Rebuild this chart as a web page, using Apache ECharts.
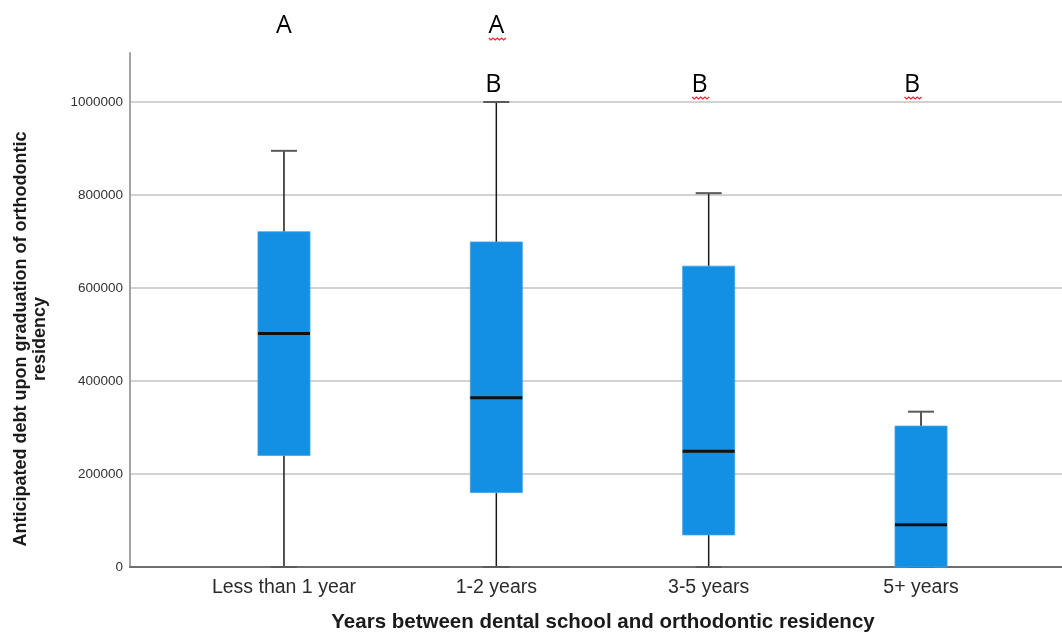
<!DOCTYPE html>
<html>
<head>
<meta charset="utf-8">
<script src="https://cdn.jsdelivr.net/npm/echarts@6/dist/echarts.min.js"></script>
<style>
html,body{margin:0;padding:0;background:#fff;}
#chart{width:1062px;height:641px;}
</style>
</head>
<body>
<div id="chart"></div>
<script>
// ---- data ----
var categories = ['Less than 1 year', '1-2 years', '3-5 years', '5+ years'];
var whiskerMin = [0, 0, 0, 0];
var quartile1  = [240000, 160000, 69000, 0];
var medians    = [502000, 364000, 249000, 91000];
var quartile3  = [721000, 699000, 647000, 303000];
var whiskerMax = [895000, 1000000, 804000, 334000];
var yTicks = [0, 200000, 400000, 600000, 800000, 1000000];
var topLetters   = ['A', 'A', '', ''];
var lowerLetters = ['', 'B', 'B', 'B'];
var squiggleTop   = [false, true, false, false];
var squiggleLower = [false, false, true, true];
var xTitle = 'Years between dental school and orthodontic residency';
var yTitle = 'Anticipated debt upon graduation of orthodontic\nresidency';

var boxData = categories.map(function (c, i) {
  return [i, whiskerMin[i], quartile1[i], medians[i], quartile3[i], whiskerMax[i]];
});

var chart = echarts.init(document.getElementById('chart'));
var SANS = '"Liberation Sans", Arial, sans-serif';

var option = {
  backgroundColor: '#ffffff',
  animation: false,
  grid: [
    {left: 130, right: 0, top: 53, bottom: 74},
    {left: 130, right: 0, top: 102, bottom: 74},
    {left: 177.8, right: 34.8, top: 102, bottom: 74}
  ],
  xAxis: [
    {gridIndex: 0, type: 'value', min: 0, max: 1,
     axisLine: {show: true, onZero: false, lineStyle: {color: '#6e6e6e', width: 2}},
     axisTick: {show: false}, axisLabel: {show: false}, splitLine: {show: false}},
    {gridIndex: 1, type: 'value', min: 0, max: 1, show: false},
    {gridIndex: 2, type: 'category', data: categories,
     axisLine: {show: false}, axisTick: {show: false},
     axisLabel: {color: '#2b2b2b', fontFamily: SANS, fontSize: 19.5, margin: 11},
     splitLine: {show: false}}
  ],
  yAxis: [
    {gridIndex: 0, type: 'value', min: 0, max: 1100000,
     axisLine: {show: true, lineStyle: {color: '#a3a3a3', width: 2}},
     axisTick: {show: false}, axisLabel: {show: false}, splitLine: {show: false}},
    {gridIndex: 1, type: 'value', min: yTicks[0], max: yTicks[yTicks.length - 1], interval: 200000,
     axisLine: {show: false}, axisTick: {show: false},
     axisLabel: {color: '#333333', fontFamily: SANS, fontSize: 13.5, margin: 7,
       formatter: function (v) { return String(v); }},
     splitLine: {show: true, lineStyle: {color: '#d2d2d2', width: 2}}},
    {gridIndex: 2, type: 'value', min: yTicks[0], max: yTicks[yTicks.length - 1], show: false}
  ],
  series: [{
    type: 'custom',
    xAxisIndex: 2,
    yAxisIndex: 2,
    data: boxData,
    encode: {x: 0, y: [1, 2, 3, 4, 5]},
    z: 10,
    renderItem: function (params, api) {
      var ci = api.value(0);
      var pMin = api.coord([ci, api.value(1)]);
      var pQ1 = api.coord([ci, api.value(2)]);
      var pMed = api.coord([ci, api.value(3)]);
      var pQ3 = api.coord([ci, api.value(4)]);
      var pMax = api.coord([ci, api.value(5)]);
      var band = api.size([1, 0])[0];
      var bw = band * 0.245;
      var cw = bw / 2;
      var cx = pMin[0];
      var children = [];
      if (pMin[1] - pQ1[1] > 0.5) {
        children.push({type: 'line', shape: {x1: cx, y1: pMin[1], x2: cx, y2: pQ1[1]},
          style: {stroke: '#1a1a1a', lineWidth: 1.5}});
      }
      children.push({type: 'line', shape: {x1: cx, y1: pQ3[1], x2: cx, y2: pMax[1]},
        style: {stroke: '#1a1a1a', lineWidth: 1.5}});
      children.push({type: 'line', shape: {x1: cx - cw / 2, y1: pMax[1], x2: cx + cw / 2, y2: pMax[1]},
        style: {stroke: '#5a5a5a', lineWidth: 2}});
      children.push({type: 'line', shape: {x1: cx - cw / 2, y1: pMin[1], x2: cx + cw / 2, y2: pMin[1]},
        style: {stroke: '#5a5a5a', lineWidth: 2}});
      children.push({type: 'rect', shape: {x: cx - bw / 2, y: pQ3[1], width: bw, height: pQ1[1] - pQ3[1]},
        style: {fill: '#138fe4', stroke: '#3aa2ea', lineWidth: 0.8}});
      children.push({type: 'line', shape: {x1: cx - bw / 2, y1: pMed[1], x2: cx + bw / 2, y2: pMed[1]},
        style: {stroke: '#111111', lineWidth: 3}});
      return {type: 'group', children: children};
    }
  }]
};
chart.setOption(option);

// ---- annotations (letters above the plot, titles) ----
function squiggle(cx, y) {
  var pts = [];
  var w = 17, n = 8;
  for (var k = 0; k <= n; k++) {
    pts.push([cx - w / 2 + k * w / n, y + (k % 2 === 0 ? -1 : 1)]);
  }
  return {type: 'polyline', shape: {points: pts}, style: {stroke: '#e8262b', lineWidth: 1.2, fill: null}};
}
var graphics = [];
categories.forEach(function (c, i) {
  var px = chart.convertToPixel({xAxisIndex: 2, yAxisIndex: 2}, [i, 0])[0];
  if (topLetters[i]) {
    graphics.push({type: 'text', x: px, y: 26, style: {text: topLetters[i], fill: '#000',
      font: '25px "Open Sans", sans-serif', align: 'center', verticalAlign: 'middle'}});
    if (squiggleTop[i]) graphics.push(squiggle(px + 1, 39));
  }
  if (lowerLetters[i]) {
    var bx = px - 3 - (i > 1 ? 6 : 0);
    graphics.push({type: 'text', x: bx, y: 85, style: {text: lowerLetters[i], fill: '#000',
      font: '25px "Open Sans", sans-serif', align: 'center', verticalAlign: 'middle'}});
    if (squiggleLower[i]) graphics.push(squiggle(bx + 1, 98));
  }
});
graphics.push({type: 'text', x: 603, y: 622, style: {text: xTitle, fill: '#1a1a1a',
  font: 'bold 20.5px "Liberation Sans", Arial, sans-serif', align: 'center', verticalAlign: 'middle'}});
graphics.push({type: 'text', x: 31, y: 339, rotation: Math.PI / 2, style: {text: yTitle, fill: '#1a1a1a',
  font: 'bold 18px "Liberation Sans", Arial, sans-serif', align: 'center', verticalAlign: 'middle', lineHeight: 19}});
chart.setOption({graphic: graphics});
</script>
</body>
</html>
